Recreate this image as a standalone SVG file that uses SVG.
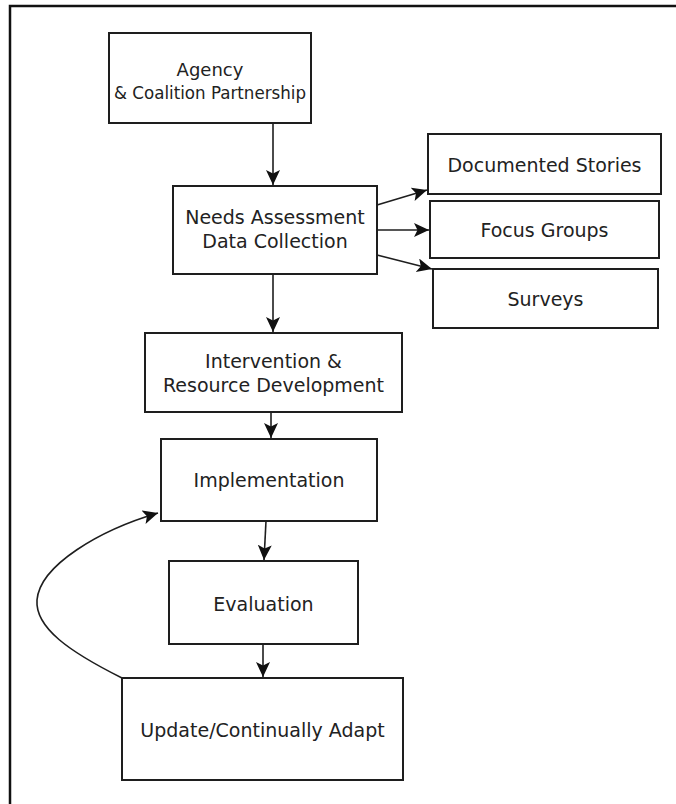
<svg xmlns="http://www.w3.org/2000/svg" width="676" height="804" viewBox="0 0 676 804">
<style>
.box{fill:#fff;stroke:#1e1e1e;stroke-width:2}
.lbl{font-family:"DejaVu Sans","Liberation Sans",sans-serif;font-size:19px;fill:#222;text-anchor:middle}
.sm{font-size:18px}
.edge{fill:none;stroke:#1e1e1e;stroke-width:1.6}
</style>
<defs>
<marker id="ah" markerUnits="userSpaceOnUse" markerWidth="18" markerHeight="16" refX="15" refY="7" orient="auto">
<path d="M0,0 L15,7 L0,14 L3.5,7 z" fill="#111"/>
</marker>
</defs>
<rect width="676" height="804" fill="#fff"/>
<path d="M10,810 V6 H680" fill="none" stroke="#111" stroke-width="2.5"/>

<g id="agency">
<rect class="box" x="109" y="33" width="202" height="90"/>
<text class="lbl sm" x="210" y="76">Agency</text>
<text class="lbl sm" x="210" y="99" textLength="192" lengthAdjust="spacingAndGlyphs">&amp; Coalition Partnership</text>
</g>
<g id="needs">
<rect class="box" x="173" y="186" width="204" height="88"/>
<text class="lbl" x="275" y="224">Needs Assessment</text>
<text class="lbl" x="275" y="248">Data Collection</text>
</g>
<g id="stories">
<rect class="box" x="428" y="134" width="233" height="60"/>
<text class="lbl" x="544.5" y="172">Documented Stories</text>
</g>
<g id="focus">
<rect class="box" x="430" y="201" width="229" height="57"/>
<text class="lbl" x="544.5" y="237">Focus Groups</text>
</g>
<g id="surveys">
<rect class="box" x="433" y="269" width="225" height="59"/>
<text class="lbl" x="545.5" y="306">Surveys</text>
</g>
<g id="intervention">
<rect class="box" x="145" y="333" width="257" height="79"/>
<text class="lbl" x="273.5" y="368">Intervention &amp;</text>
<text class="lbl" x="273.5" y="392">Resource Development</text>
</g>
<g id="implementation">
<rect class="box" x="161" y="439" width="216" height="82"/>
<text class="lbl" x="269" y="487">Implementation</text>
</g>
<g id="evaluation">
<rect class="box" x="169" y="561" width="189" height="83"/>
<text class="lbl" x="263.5" y="611">Evaluation</text>
</g>
<g id="update">
<rect class="box" x="122" y="678" width="281" height="102"/>
<text class="lbl" x="262.5" y="737">Update/Continually Adapt</text>
</g>

<g id="connectors">
<line class="edge" x1="273" y1="123" x2="273" y2="185" marker-end="url(#ah)"/>
<line class="edge" x1="377" y1="205" x2="427" y2="190" marker-end="url(#ah)"/>
<line class="edge" x1="377" y1="230" x2="429" y2="230" marker-end="url(#ah)"/>
<line class="edge" x1="377" y1="255" x2="432" y2="269" marker-end="url(#ah)"/>
<line class="edge" x1="273" y1="274" x2="273" y2="332" marker-end="url(#ah)"/>
<line class="edge" x1="271" y1="412" x2="271" y2="438" marker-end="url(#ah)"/>
<line class="edge" x1="266" y1="521" x2="264" y2="560" marker-end="url(#ah)"/>
<line class="edge" x1="263" y1="644" x2="263" y2="677" marker-end="url(#ah)"/>
<path class="edge" d="M122,678 C70,652 35,628 37,600 C40,565 100,530 158,513" marker-end="url(#ah)"/>
</g>
</svg>
